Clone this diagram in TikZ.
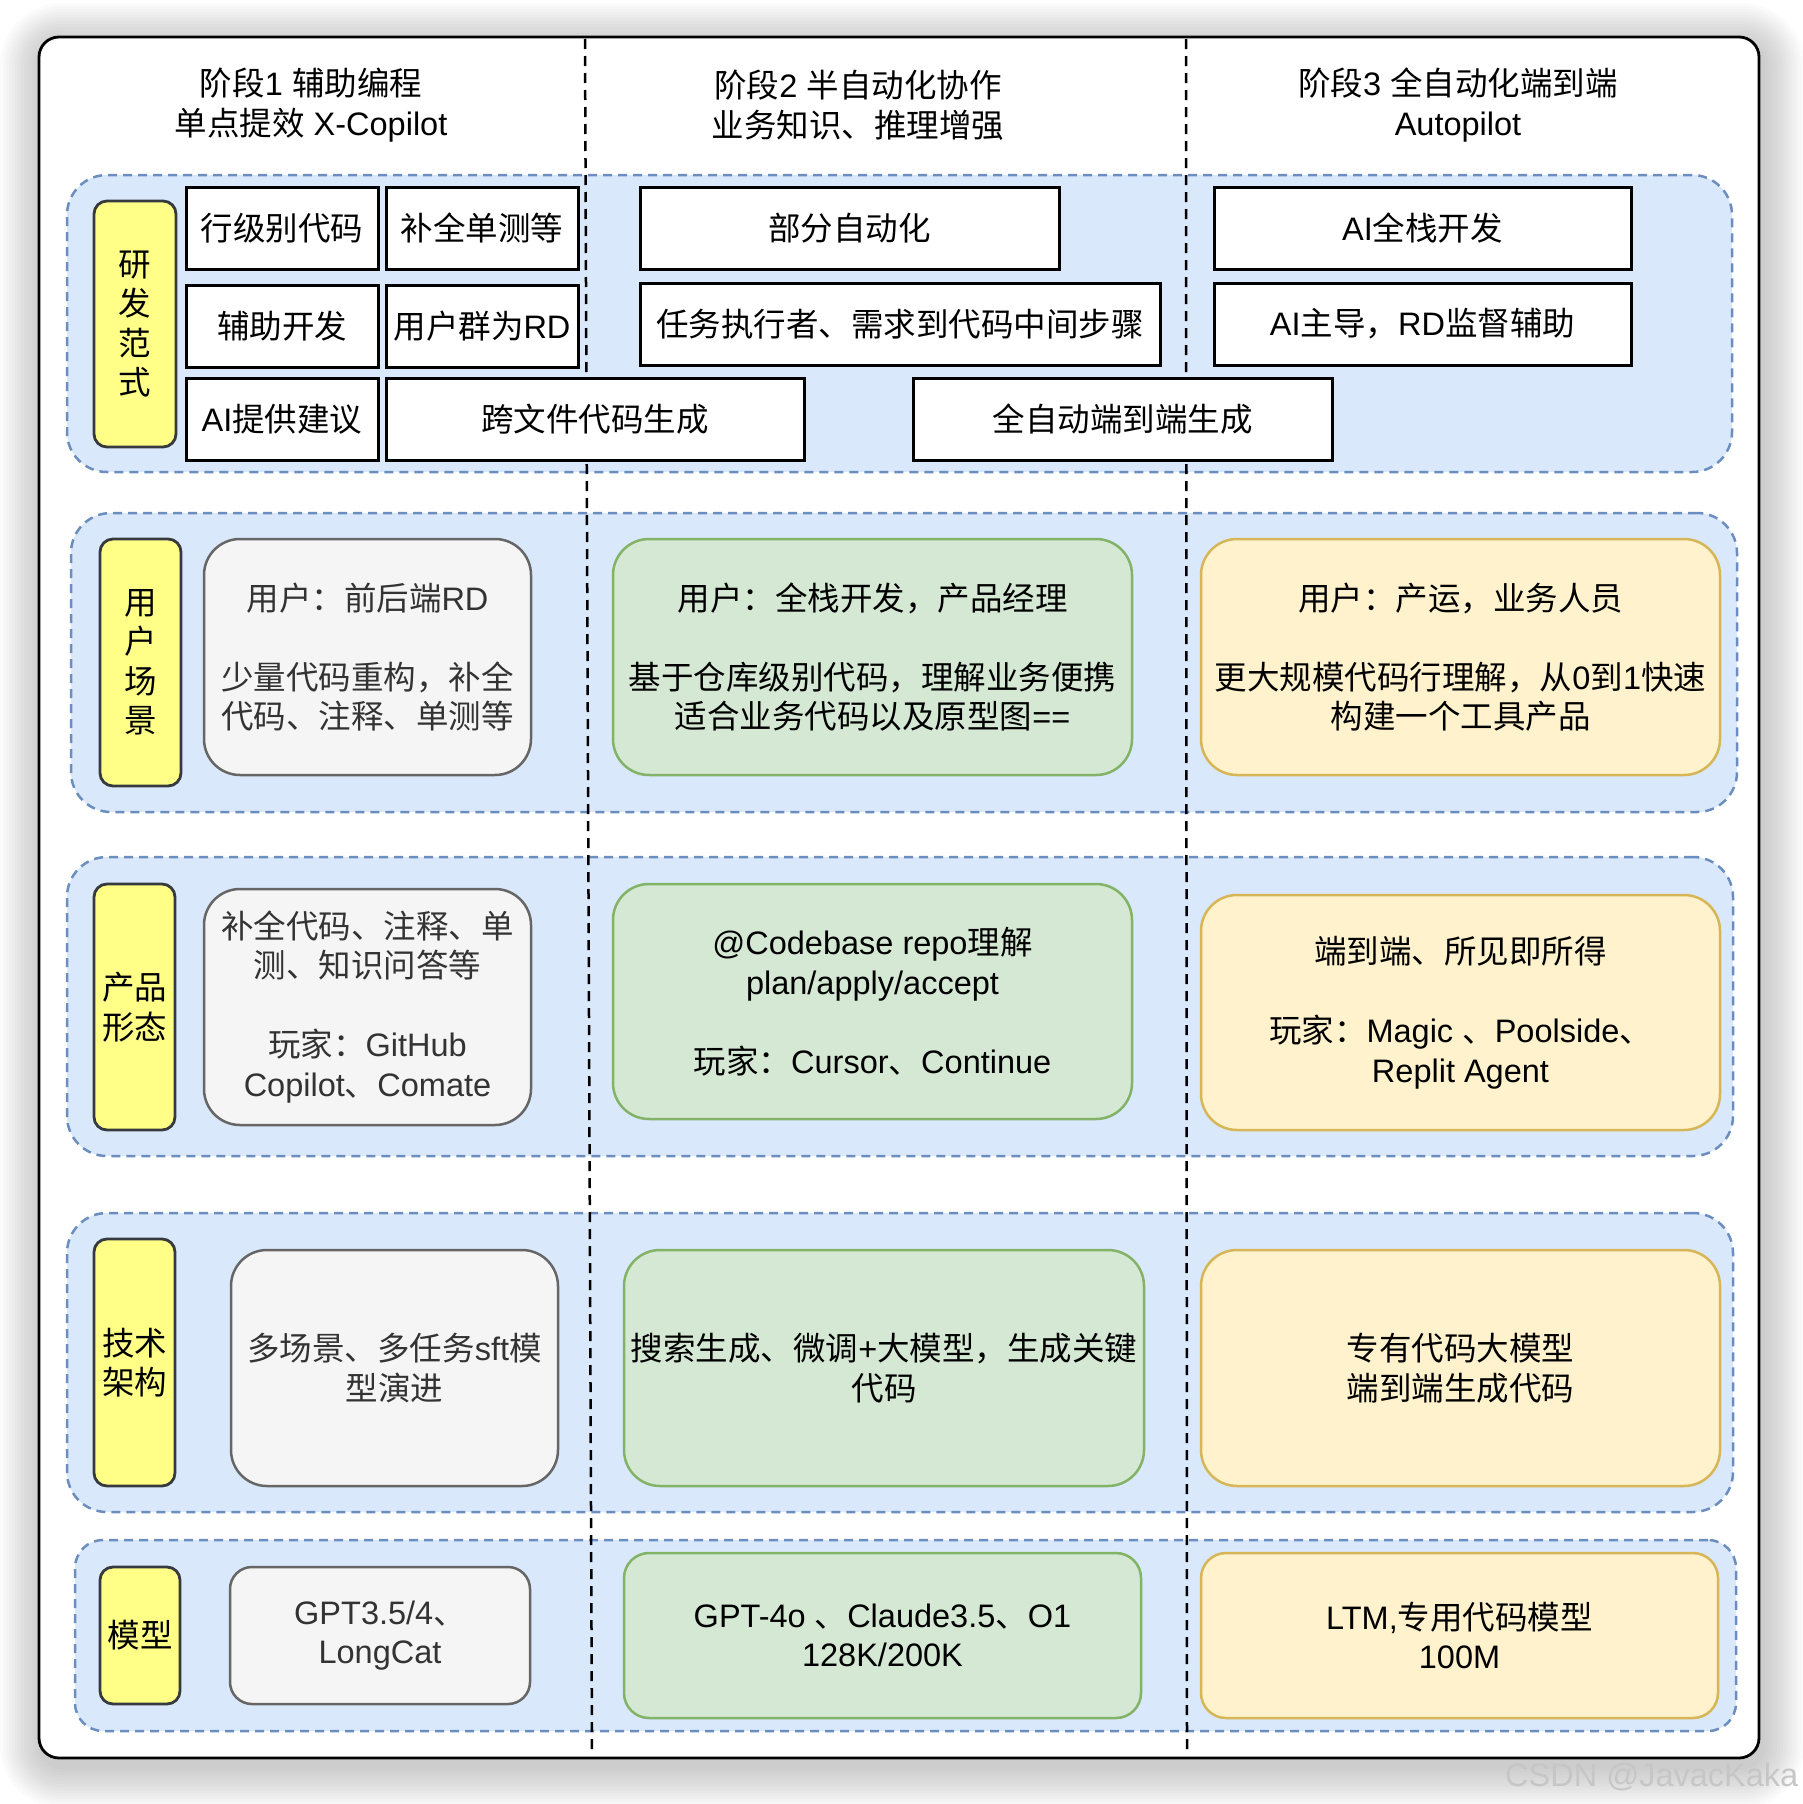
\documentclass[tikz,border=0pt]{standalone}
\usepackage{fontspec}
\setmainfont{Liberation Sans}
\newfontfamily\cjkfont{Noto Sans CJK SC}
\XeTeXinterchartokenstate=1
\newcount\cjkc
\def\cjkrange#1#2{\cjkc=#1\relax\loop\XeTeXcharclass\cjkc=5\relax\ifnum\cjkc<#2\relax\advance\cjkc by 1\relax\repeat}
\cjkrange{"3000}{"30FF}
\cjkrange{"4E00}{"9FFF}
\cjkrange{"FF00}{"FFEF}
\XeTeXinterchartoks 0 5 = {\begingroup\cjkfont}
\XeTeXinterchartoks 1 5 = {\begingroup\cjkfont}
\XeTeXinterchartoks 2 5 = {\begingroup\cjkfont}
\XeTeXinterchartoks 3 5 = {\begingroup\cjkfont}
\XeTeXinterchartoks 4095 5 = {\begingroup\cjkfont}
\XeTeXinterchartoks 5 0 = {\endgroup}
\XeTeXinterchartoks 5 1 = {\endgroup}
\XeTeXinterchartoks 5 2 = {\endgroup}
\XeTeXinterchartoks 5 3 = {\endgroup}
\XeTeXinterchartoks 5 4095 = {\endgroup}
\definecolor{cfill}{HTML}{DAE8FC}
\definecolor{cline}{HTML}{6C8EBF}
\definecolor{labfill}{HTML}{FFFF88}
\definecolor{labline}{HTML}{36393D}
\definecolor{grayfill}{HTML}{F5F5F5}
\definecolor{grayline}{HTML}{666666}
\definecolor{graytext}{HTML}{333333}
\definecolor{greenfill}{HTML}{D5E8D4}
\definecolor{greenline}{HTML}{82B366}
\definecolor{yelfill}{HTML}{FFF2CC}
\definecolor{yelline}{HTML}{D6B656}
\newcommand\bx[7]{\node[#1, minimum width={(#5)-(#3)}, minimum height={(#6)-(#4)}] (#2) at ({((#3)+(#5))/2},{((#4)+(#6))/2}) {#7};}
\begin{document}
\begin{tikzpicture}[x=1pt,y=-1pt,
  every node/.style={font=\fontsize{32.5}{39.5}\selectfont, inner sep=0pt, align=center},
  cont/.style={draw=cline, fill=cfill, line width=2.5pt, dash pattern=on 9pt off 6pt, rounded corners=40pt},
  lab/.style={draw=labline, fill=labfill, line width=2.8pt, rounded corners=13pt},
  wbox/.style={draw=black, fill=white, line width=3pt},
  gbox/.style={draw=grayline, fill=grayfill, text=graytext, line width=2.5pt, rounded corners=36pt},
  nbox/.style={draw=greenline, fill=greenfill, line width=2.5pt, rounded corners=36pt},
  ybox/.style={draw=yelline, fill=yelfill, line width=2.5pt, rounded corners=36pt},
  vline/.style={line width=2.5pt, dash pattern=on 10pt off 7pt},
  frame/.style={draw=black, fill=white, line width=2.8pt, rounded corners=20pt}]
\useasboundingbox (0,0) rectangle (1802,1804);
% shadow
\foreach \i in {1,...,14}{
  \pgfmathsetmacro\rr{20+3*\i}
  \fill[black, opacity=0.014, rounded corners=\rr pt] ({39-3*\i+3},{37-3*\i+8}) rectangle ({1759+3*\i+3},{1758+3*\i+8});
}
\draw[frame] (39,37) rectangle (1759,1758);
% containers
\bx{cont}{c1}{67}{175}{1732}{472}{}
\bx{cont}{c2}{71}{513}{1737}{812}{}
\bx{cont}{c3}{67}{857}{1733}{1156}{}
\bx{cont}{c4}{67}{1213}{1733}{1512}{}
\bx{cont,rounded corners=28pt}{c5}{75}{1540}{1736}{1731}{}
% vertical dashed lines
\coordinate (v1t) at (585,39);
\coordinate (v1b) at (592,1752);
\coordinate (v2t) at (1186,39);
\coordinate (v2b) at (1187,1752);
\draw[vline] (v1t) -- (v1b);
\draw[vline] (v2t) -- (v2b);
% headings
\node (h1) at (311,105) {阶段1 辅助编程\\单点提效 X-Copilot};
\node (h2) at (858,105) {阶段2 半自动化协作\\业务知识、推理增强};
\node (h3) at (1458,105) {阶段3 全自动化端到端\\Autopilot};
% row 1
\bx{wbox}{w11}{186}{187}{378}{269}{行级别代码}
\bx{wbox}{w12}{386}{187}{578}{269}{补全单测等}
\bx{wbox}{w21}{186}{285}{378}{367}{辅助开发}
\bx{wbox}{w22}{386}{285}{578}{367}{用户群为RD}
\bx{wbox}{w31}{186}{378}{378}{460}{AI提供建议}
\bx{wbox}{w32}{386}{378}{804}{460}{跨文件代码生成}
\bx{wbox}{w13}{640}{187}{1059}{269}{部分自动化}
\bx{wbox}{w23}{640}{283}{1160}{365}{任务执行者、需求到代码中间步骤}
\bx{wbox}{w33}{913}{378}{1332}{460}{全自动端到端生成}
\bx{wbox}{w14}{1214}{187}{1631}{269}{AI全栈开发}
\bx{wbox}{w24}{1214}{283}{1631}{365}{AI主导，RD监督辅助}
% labels
\bx{lab}{l1}{94}{201}{176}{447}{研\\发\\范\\式}
\bx{lab}{l2}{100}{539}{181}{786}{用\\户\\场\\景}
\bx{lab}{l3}{94}{884}{175}{1130}{产品\\形态}
\bx{lab}{l4}{94}{1239}{175}{1486}{技术\\架构}
\bx{lab}{l5}{100}{1567}{180}{1704}{模型}
% row 2
\bx{gbox}{g2}{204}{539}{531}{775}{用户：前后端RD\\[39.5pt]少量代码重构，补全\\代码、注释、单测等}
\bx{nbox}{n2}{613}{539}{1132}{775}{用户：全栈开发，产品经理\\[39.5pt]基于仓库级别代码，理解业务便携\\适合业务代码以及原型图==}
\bx{ybox}{y2}{1201}{539}{1720}{775}{用户：产运，业务人员\\[39.5pt]更大规模代码行理解，从0到1快速\\构建一个工具产品}
% row 3
\bx{gbox}{g3}{204}{889}{531}{1125}{补全代码、注释、单\\测、知识问答等\\[39.5pt]玩家：GitHub\\Copilot、Comate}
\bx{nbox}{n3}{613}{884}{1132}{1119}{@Codebase repo理解\\plan/apply/accept\\[39.5pt]玩家：Cursor、Continue}
\bx{ybox}{y3}{1201}{895}{1720}{1130}{端到端、所见即所得\\[39.5pt]玩家：Magic 、Poolside、\\Replit Agent}
% row 4
\bx{gbox}{g4}{231}{1250}{558}{1486}{多场景、多任务sft模\\型演进}
\bx{nbox}{n4}{624}{1250}{1144}{1486}{搜索生成、微调+大模型，生成关键\\代码}
\bx{ybox}{y4}{1201}{1250}{1720}{1486}{专有代码大模型\\端到端生成代码}
% row 5
\bx{gbox,rounded corners=22pt}{g5}{230}{1567}{530}{1704}{GPT3.5/4、\\LongCat}
\bx{nbox,rounded corners=25pt}{n5}{624}{1553}{1141}{1718}{GPT-4o 、Claude3.5、O1\\128K/200K}
\bx{ybox,rounded corners=25pt}{y5}{1201}{1553}{1718}{1718}{LTM,专用代码模型\\100M}
% watermark
\node[anchor=base west, text=gray!45] (wm) at (1505,1786) {CSDN @JavacKaka};
\end{tikzpicture}
\end{document}
